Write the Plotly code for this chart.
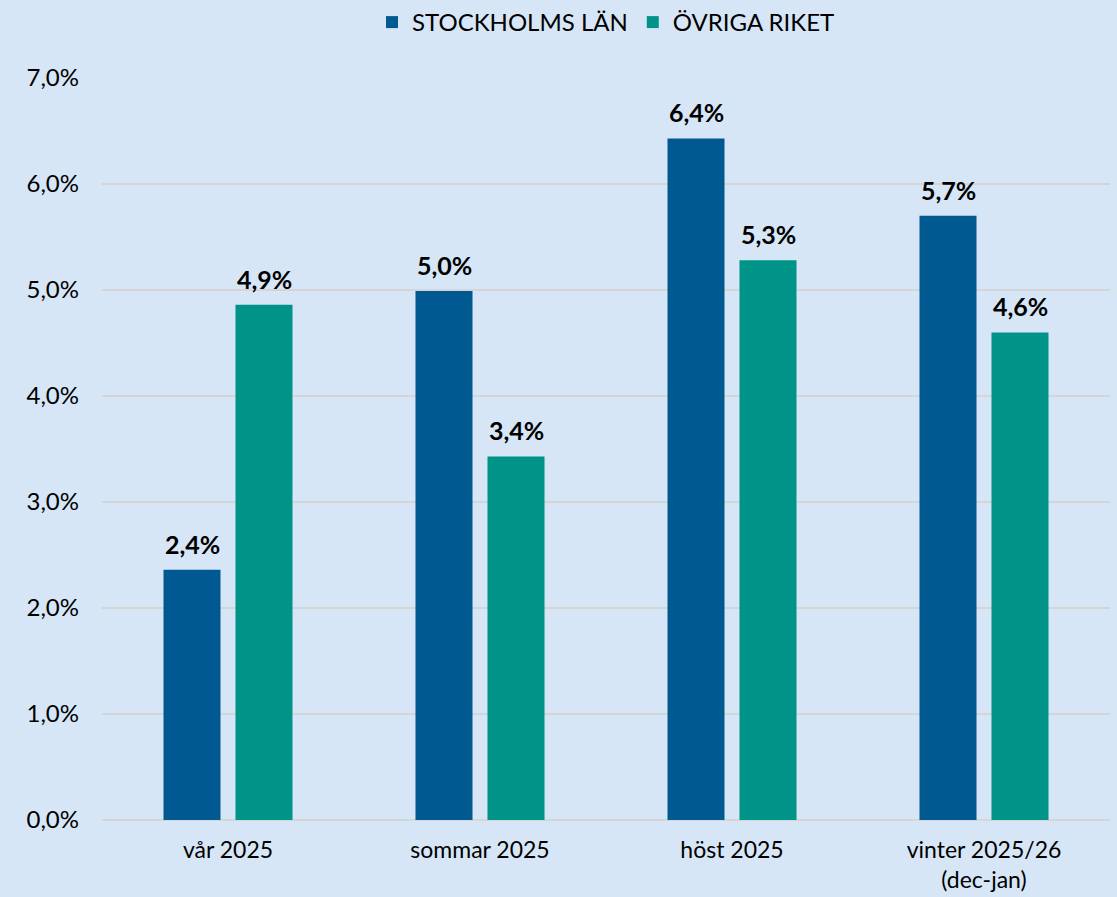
import plotly.graph_objects as go

categories = ["vår 2025", "sommar 2025", "höst 2025", "vinter 2025/26<br>(dec-jan)"]
stockholm = [0.0236, 0.0499, 0.0643, 0.0570]
ovriga = [0.0486, 0.0343, 0.0528, 0.0460]
series_names = ["STOCKHOLMS LÄN", "ÖVRIGA RIKET"]
tick_vals = [0, 0.01, 0.02, 0.03, 0.04, 0.05, 0.06, 0.07]

FONT = "Lato, DejaVu Sans, sans-serif"
BG = "#D6E6F6"
colors = ["#005A91", "#009488"]

fig = go.Figure()
for name, vals, color in zip(series_names, [stockholm, ovriga], colors):
    fig.add_trace(go.Bar(
        x=categories, y=vals, name=name,
        marker=dict(color=color, line=dict(width=0)),
    ))

annotations = []
for shift, vals in [(-36, stockholm), (36, ovriga)]:
    for c, v in zip(categories, vals):
        annotations.append(dict(
            x=c, y=v, xref="x", yref="y", xshift=shift, yshift=9,
            yanchor="bottom", showarrow=False,
            text="<b>" + f"{v*100:.1f}".replace(".", ",") + "%</b>",
            font=dict(family=FONT, size=25, color="#000000"),
        ))

fig.update_layout(
    width=1117, height=897,
    paper_bgcolor=BG, plot_bgcolor=BG,
    separators=", ",
    barmode="group", bargap=0.4286, bargroupgap=0.208,
    margin=dict(l=102, r=7, t=78, b=77),
    font=dict(family=FONT, color="#000000"),
    legend=dict(orientation="h", x=0.5, xanchor="center", y=1.0, yanchor="top",
                yref="container", font=dict(size=24, family=FONT),
                traceorder="normal"),
    annotations=annotations,
    showlegend=True,
)
fig.update_xaxes(tickfont=dict(size=23, family=FONT), showline=False, ticks="",
                 ticklabelstandoff=14, automargin=False)
fig.update_yaxes(range=[0, 0.07], tickvals=tick_vals, tickformat=".1%",
                 tickfont=dict(size=24, family=FONT), automargin=False,
                 showgrid=True, gridcolor="#D5D5D5", gridwidth=2,
                 zeroline=True, zerolinecolor="#D5D5D5", zerolinewidth=2,
                 ticklabelstandoff=22)

fig.write_html("out.html", config={"displayModeBar": False},
               post_script="document.body.style.margin='0';")
